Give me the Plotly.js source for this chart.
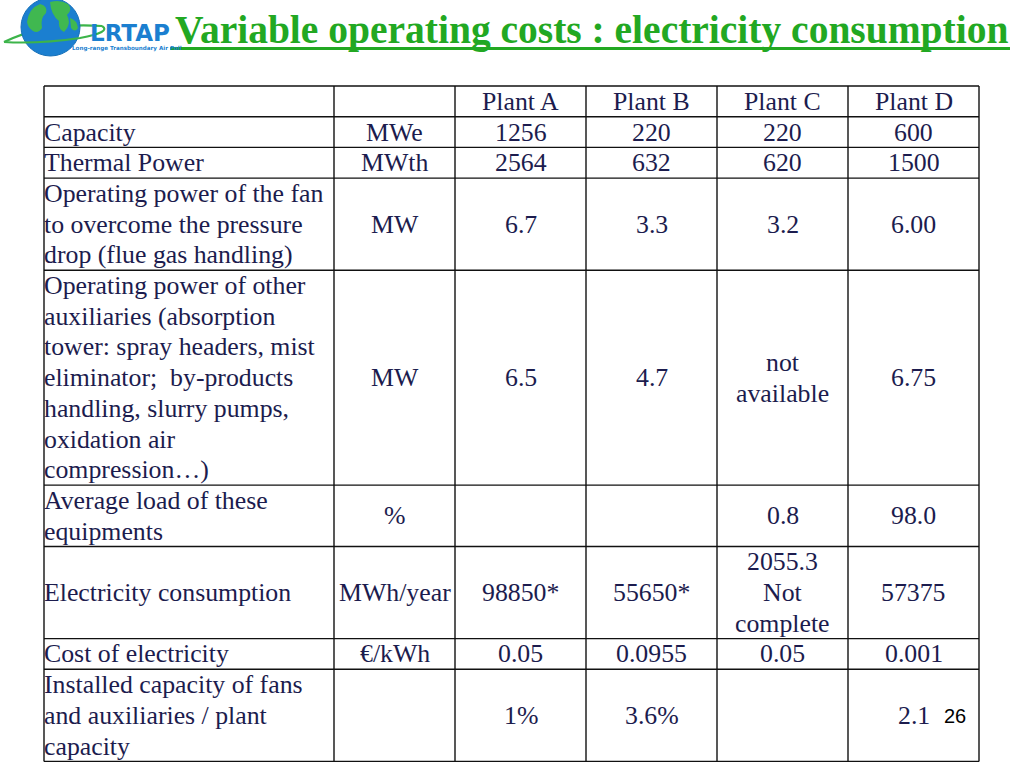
<!DOCTYPE html>
<html>
<head>
<meta charset="utf-8">
<script src="https://cdn.plot.ly/plotly-3.0.1.min.js"></script>
<style>html,body{margin:0;padding:0;background:#fff;}#chart{width:1024px;height:768px;}</style>
</head>
<body>
<div id="chart"></div>
<script>
// ---- data ----
const titleText = "Variable operating costs : electricity consumption";
const headers = ["", "", "Plant A", "Plant B", "Plant C", "Plant D"];
const rowLabels = [
  "Capacity",
  "Thermal Power",
  "Operating power of the fan<br>to overcome the pressure<br>drop (flue gas handling)",
  "Operating power of other<br>auxiliaries (absorption<br>tower: spray headers, mist<br>eliminator;  by-products<br>handling, slurry pumps,<br>oxidation air<br>compression…)",
  "Average load of these<br>equipments",
  "Electricity consumption",
  "Cost of electricity",
  "Installed capacity of fans<br>and auxiliaries / plant<br>capacity"
];
const units = ["MWe", "MWth", "MW", "MW", "%", "MWh/year", "€/kWh", ""];
const plantA = ["1256", "2564", "6.7", "6.5", "", "98850*", "0.05", "1%"];
const plantB = ["220", "632", "3.3", "4.7", "", "55650*", "0.0955", "3.6%"];
const plantC = ["220", "620", "3.2", "not<br>available", "0.8", "2055.3<br>Not<br>complete", "0.05", ""];
const plantD = ["600", "1500", "6.00", "6.75", "98.0", "57375", "0.001", "2.1"];
const pageNumber = "26";

// ---- layout geometry ----
const colEdges = [44, 334, 455, 586, 717, 848, 979];
const tableTop = 86;
const lineUnit = 30.7;
const textColor = "#1c1c4e";
const fontSerif = "Liberation Serif";
const fs = 25.8;

const columns = [rowLabels, units, plantA, plantB, plantC, plantD];
const splitLines = s => s === "" ? [] : s.split("<br>");

const rowsLines = [1]; // header
for (let r = 0; r < rowLabels.length; r++) {
  let m = 1;
  columns.forEach(c => { m = Math.max(m, splitLines(c[r]).length); });
  rowsLines.push(m);
}
const rowEdges = [tableTop];
rowsLines.forEach(n => rowEdges.push(rowEdges[rowEdges.length - 1] + n * lineUnit));

const shapes = [];
const annotations = [];

// logo: orbit back arc, globe, continents, orbit front arc
const green = "#3cb44a";
shapes.push({type: "path", xref: "x", yref: "y", path: "M4,42 Q45,22 102,26", line: {color: green, width: 2.2}});
shapes.push({type: "circle", xref: "x", yref: "y", x0: 21, x1: 80, y0: -2, y1: 56, fillcolor: "#1b7fd0", line: {color: "#1670b8", width: 1}});
shapes.push({type: "path", xref: "x", yref: "y", path: "M27,22 Q29,8 40,4 Q48,6 46,13 Q40,18 42,28 Q38,34 33,31 Q28,28 27,22 Z", fillcolor: "#40b850", line: {width: 0}});
shapes.push({type: "path", xref: "x", yref: "y", path: "M50,2 Q60,-1 68,4 Q73,10 67,15 Q72,24 64,32 Q58,29 59,21 Q51,15 50,2 Z", fillcolor: "#40b850", line: {width: 0}});
shapes.push({type: "path", xref: "x", yref: "y", path: "M70,18 Q77,20 78,28 Q75,33 71,28 Z", fillcolor: "#40b850", line: {width: 0}});
shapes.push({type: "path", xref: "x", yref: "y", path: "M102,26 Q112,32 80,38 Q40,44 4,42", line: {color: green, width: 2.2}});
annotations.push({xref: "x", yref: "y", x: 130, y: 33, xanchor: "center", yanchor: "middle", showarrow: false,
  text: "<b>LRTAP</b>", font: {family: "DejaVu Sans", size: 23, color: "#1b7fd0"}});
annotations.push({xref: "x", yref: "y", x: 70, y: 48.5, xanchor: "left", yanchor: "middle", showarrow: false,
  text: "<b>Long-range Transboundary Air Poll</b>", font: {family: "DejaVu Sans", size: 5.6, color: "#1b7fd0"}});

// grid
rowEdges.forEach(y => shapes.push({type: "line", xref: "x", yref: "y", x0: colEdges[0], x1: colEdges[colEdges.length - 1], y0: y, y1: y, line: {color: "#111", width: 1.4}}));
colEdges.forEach(x => shapes.push({type: "line", xref: "x", yref: "y", x0: x, x1: x, y0: rowEdges[0], y1: rowEdges[rowEdges.length - 1], line: {color: "#111", width: 1.4}}));

function cell(text, c, r) {
  const lines = splitLines(text);
  const n = lines.length;
  const yc = (rowEdges[r] + rowEdges[r + 1]) / 2;
  const left = c === 0;
  lines.forEach((ln, i) => {
    annotations.push({
      xref: "x", yref: "y",
      x: left ? colEdges[0] - 2 : (colEdges[c] + colEdges[c + 1]) / 2,
      y: yc + (i - (n - 1) / 2) * lineUnit,
      xanchor: left ? "left" : "center", yanchor: "middle",
      text: ln, showarrow: false,
      font: {family: fontSerif, size: fs, color: textColor}
    });
  });
}
headers.forEach((h, c) => cell(h, c, 0));
columns.forEach((col, c) => col.forEach((t, r) => cell(t, c, r + 1)));

// title
annotations.push({xref: "x", yref: "y", x: 591, y: 30, xanchor: "center", yanchor: "middle", showarrow: false,
  text: "<b>" + titleText + "</b>", font: {family: fontSerif, size: 39.5, color: "#22a822"}});
shapes.push({type: "line", xref: "x", yref: "y", x0: 170, x1: 1010, y0: 48.5, y1: 48.5, line: {color: "#22a822", width: 3}});

// page number
annotations.push({xref: "x", yref: "y", x: 955, y: 716, xanchor: "center", yanchor: "middle", showarrow: false,
  text: pageNumber, font: {family: "Liberation Sans", size: 20, color: "#000"}});

const layout = {
  width: 1024, height: 768,
  margin: {l: 0, r: 0, t: 0, b: 0},
  paper_bgcolor: "#fff", plot_bgcolor: "#fff",
  showlegend: false,
  xaxis: {range: [0, 1024], visible: false, fixedrange: true},
  yaxis: {range: [768, 0], visible: false, fixedrange: true},
  shapes: shapes,
  annotations: annotations
};
Plotly.newPlot("chart", [{type: "scatter", x: [], y: [], mode: "markers"}], layout, {displayModeBar: false, staticPlot: true});
</script>
</body>
</html>
